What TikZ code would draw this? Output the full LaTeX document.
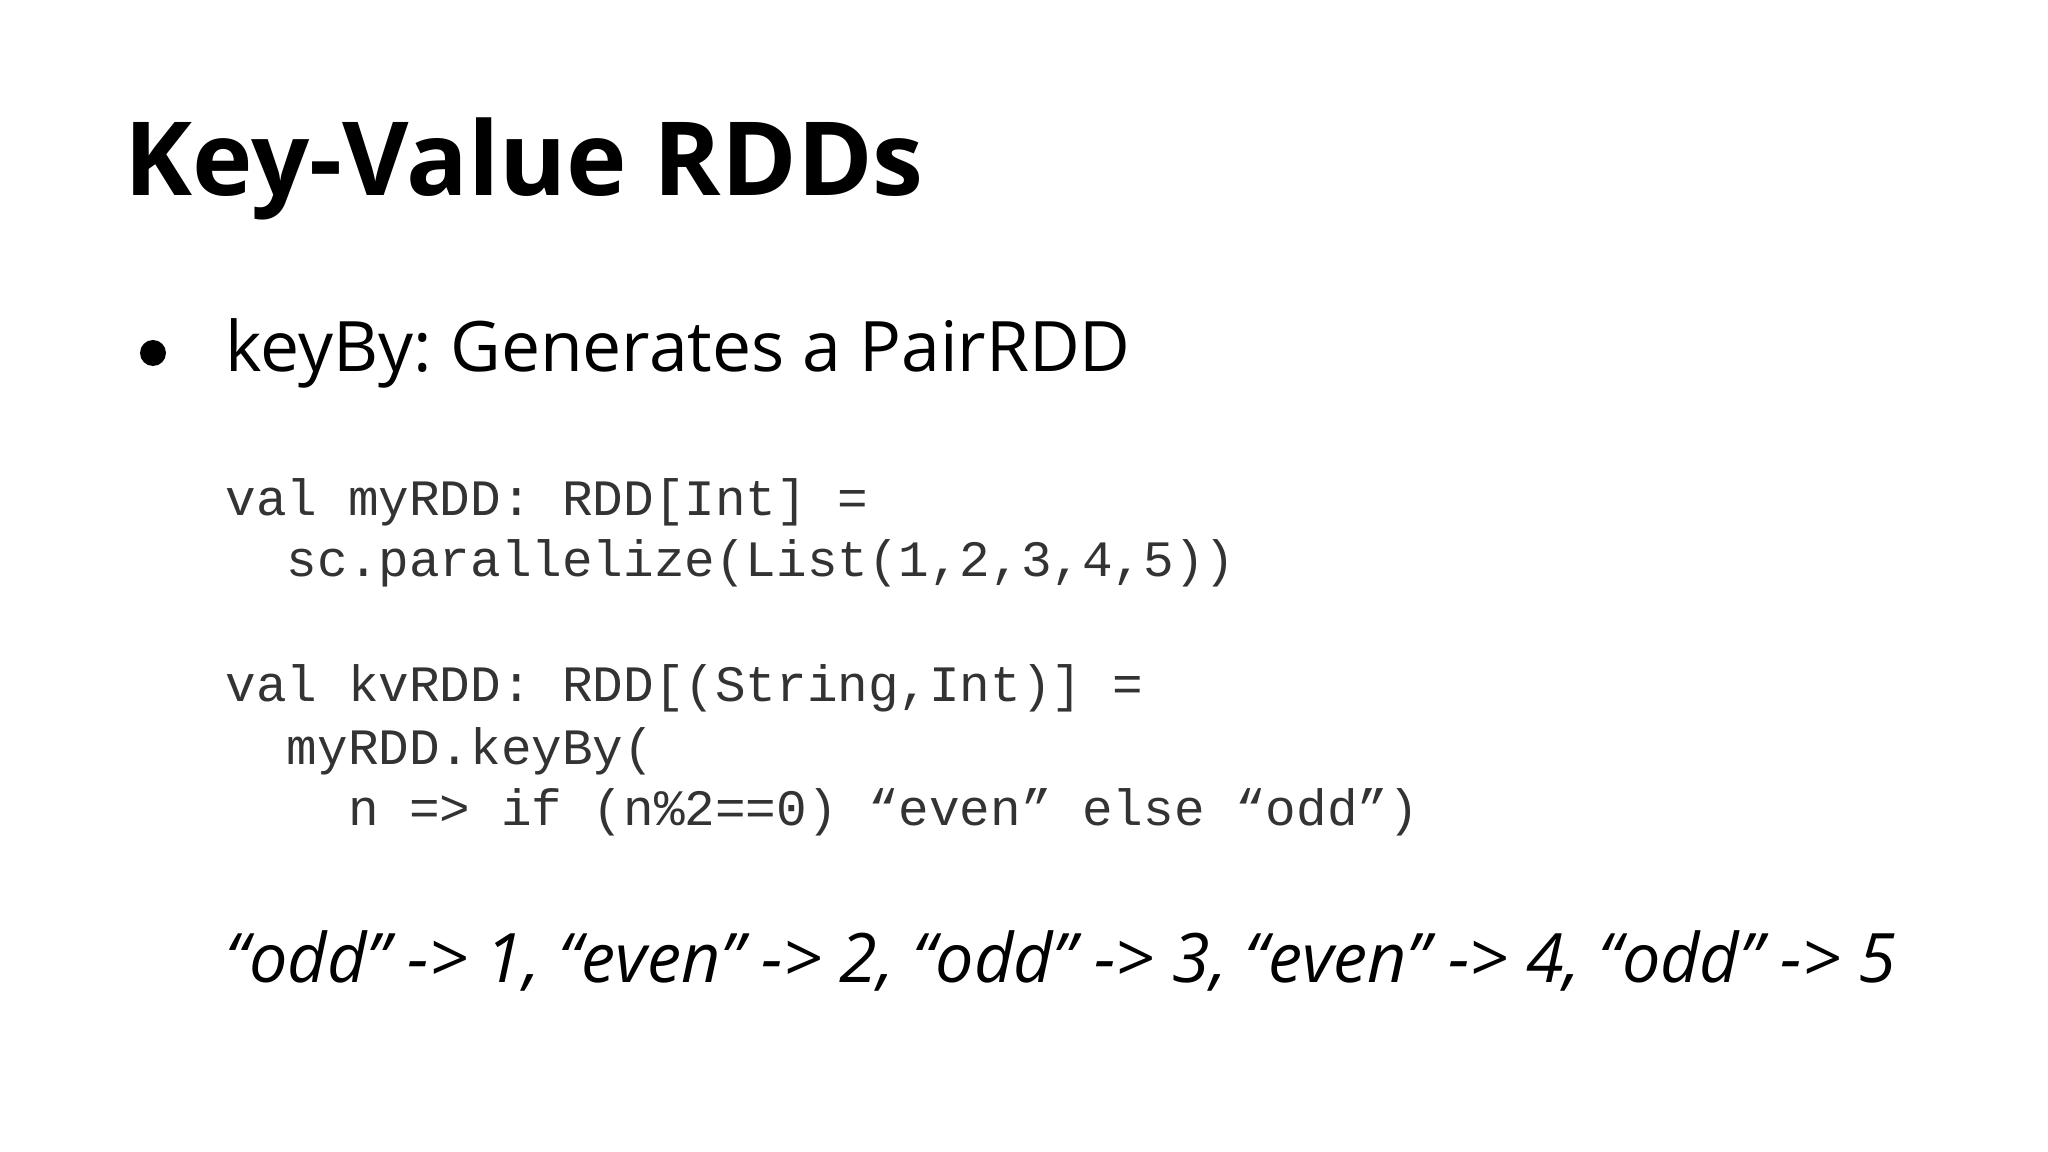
\documentclass[tikz,border=0pt]{standalone}
\usepackage{fontspec}
\setmainfont{Open Sans}
\setmonofont{Liberation Mono}
\frenchspacing
\begin{document}
\begin{tikzpicture}[x=0.01cm,y=-0.01cm,
  code/.style={anchor=base west,inner sep=0pt,font=\ttfamily\fontsize{14.5pt}{17pt}\selectfont,text=black!80}]
\useasboundingbox[fill=white] (0,0) rectangle (2048,1152);
\node[anchor=base west,inner sep=0pt,font=\bfseries\fontsize{29.1pt}{36pt}\selectfont] (title) at (124,196) {Key-Value RDDs};
\fill (153,353) circle (13) coordinate (dot);
\node[anchor=base west,inner sep=0pt,font=\fontsize{19.8pt}{25pt}\selectfont] (b1) at (225,372) {keyBy: Generates a PairRDD};
\node[code] (c1) at (225,516) {val myRDD: RDD[Int] =};
\node[code] (c2) at (225,577) {\ \ sc.parallelize(List(1,2,3,4,5))};
\node[code] (c3) at (225,701) {val kvRDD: RDD[(String,Int)] =};
\node[code] (c4) at (225,764) {\ \ myRDD.keyBy(};
\node[code] (c5) at (225,825) {\ \ \ \ n => if (n\%2==0) “even” else “odd”)};
\node[anchor=base west,inner sep=0pt,font=\itshape\fontsize{19.4pt}{23pt}\selectfont] (res) at (225,982) {“odd” -> 1, “even” -> 2, “odd” -> 3, “even” -> 4, “odd” -> 5};
\end{tikzpicture}
\end{document}
